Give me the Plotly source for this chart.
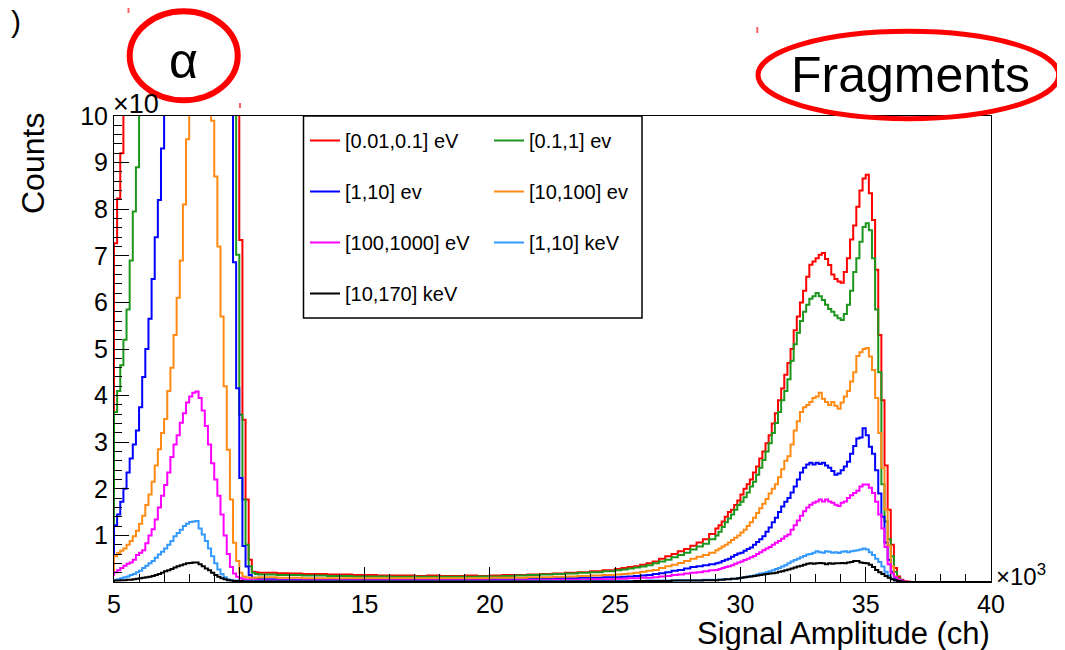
import numpy as np
import plotly.graph_objects as go

# ---------------- data (counts in units of x10^n, per histogram bin) ----------------
# bin start edges in channels; first alpha bin (4875) lies just left of the visible range
alpha_bins = np.arange(4875, 11000, 125)    # 49 bins
valley_bins = np.arange(11000, 25000, 500)  # 28 bins
rise_bins = np.arange(25000, 29000, 250)    # 16 bins
frag_bins = np.arange(29000, 37000, 125)    # 64 bins
last_edge = 40000

series_names = ["[0.01,0.1] eV", "[0.1,1] ev", "[1,10] ev", "[10,100] ev",
                "[100,1000] eV", "[1,10] keV", "[10,170] keV"]

red_alpha = [3.65, 7.27, 8.23, 9.2, 10.5, 11.5, 12.5, 14, 15.5, 17, 19, 21, 23, 25, 27, 29, 31, 33,
             34.5, 36, 37, 38, 38.5, 38.5, 38, 37, 36, 34.5, 33, 31, 29, 27, 25, 23, 21, 19, 17, 15,
             13.5, 12, 10.8, 7.34, 3.48, 1.77, 0.48, 0.22, 0.21, 0.2, 0.2]
green_alpha = [1.16, 3.65, 4.1, 4.65, 5.2, 5.85, 6.9, 7.95, 8.9, 10.8, 11.8, 13, 14.5, 16, 17.5, 19,
               20.5, 22, 23.5, 25, 26, 27, 27.5, 28, 28, 27.5, 27, 26, 25, 23.5, 22, 20.5, 19, 17.5,
               16, 14.5, 13, 12, 11, 10.4, 7.02, 3.59, 1.77, 0.8, 0.34, 0.2, 0.17, 0.16, 0.16]
blue_alpha = [0.41, 1.22, 1.45, 1.72, 2.0, 2.35, 2.65, 2.95, 3.25, 3.75, 4.4, 5.0, 5.65, 6.5, 7.4,
              8.2, 9.3, 10.5, 11.2, 12, 12.8, 13.5, 14, 14.5, 14.8, 15, 15, 14.8, 14.5, 14, 13.5,
              13, 12.5, 12, 11.5, 11, 10.6, 10.3, 10.1, 6.86, 4.16, 2.23, 0.77, 0.33, 0.15, 0.09,
              0.07, 0.06, 0.06]
orange_alpha = [0.2, 0.55, 0.62, 0.67, 0.72, 0.8, 0.88, 0.98, 1.1, 1.25, 1.42, 1.65, 1.88, 2.15,
                2.5, 2.85, 3.2, 3.5, 4.1, 4.6, 5.3, 6.1, 6.9, 8.1, 9.5, 10.8, 11.5, 12, 12.2, 12,
                11.5, 10.8, 9.9, 8.7, 7.2, 5.7, 4.2, 2.84, 1.77, 0.84, 0.45, 0.2, 0.12, 0.1, 0.09,
                0.09, 0.09, 0.1, 0.1]
magenta_alpha = [0.15, 0.21, 0.25, 0.3, 0.35, 0.39, 0.42, 0.48, 0.58, 0.63, 0.68, 0.83, 1.0, 1.13,
                 1.34, 1.6, 1.85, 2.08, 2.35, 2.68, 2.95, 3.15, 3.42, 3.62, 3.85, 3.98, 4.06, 4.09,
                 3.95, 3.68, 3.35, 2.95, 2.55, 2.2, 1.85, 1.45, 1.0, 0.6, 0.32, 0.18, 0.11, 0.08,
                 0.06, 0.05, 0.05, 0.04, 0.04, 0.04, 0.04]
lightblue_alpha = [0.04, 0.05, 0.06, 0.08, 0.1, 0.12, 0.15, 0.17, 0.21, 0.24, 0.3, 0.35, 0.4, 0.45,
                   0.52, 0.59, 0.65, 0.72, 0.8, 0.88, 0.98, 1.05, 1.12, 1.2, 1.25, 1.29, 1.3, 1.31,
                   1.15, 1.02, 0.88, 0.72, 0.55, 0.4, 0.27, 0.17, 0.1, 0.06, 0.04, 0.03, 0.03, 0.02,
                   0.02, 0.02, 0.02, 0.02, 0.02, 0.02, 0.02]
black_alpha = [0.02, 0.03, 0.03, 0.04, 0.04, 0.05, 0.05, 0.06, 0.07, 0.08, 0.09, 0.1, 0.11, 0.13,
               0.15, 0.17, 0.2, 0.23, 0.25, 0.28, 0.31, 0.34, 0.36, 0.38, 0.4, 0.41, 0.42, 0.42,
               0.38, 0.34, 0.29, 0.25, 0.2, 0.15, 0.11, 0.08, 0.06, 0.04, 0.03, 0.02, 0.02, 0.02,
               0.01, 0.01, 0.01, 0.01, 0.01, 0.01, 0.01]

red_valley = [0.2, 0.19, 0.18, 0.17, 0.17, 0.16, 0.16, 0.15, 0.15, 0.14, 0.14, 0.14, 0.13, 0.14,
              0.13, 0.13, 0.14, 0.13, 0.14, 0.15, 0.15, 0.16, 0.17, 0.18, 0.2, 0.21, 0.23, 0.25]
green_valley = [0.16, 0.15, 0.15, 0.14, 0.14, 0.13, 0.13, 0.12, 0.12, 0.12, 0.11, 0.11, 0.11, 0.11,
                0.11, 0.11, 0.11, 0.12, 0.12, 0.13, 0.14, 0.15, 0.16, 0.17, 0.18, 0.2, 0.21, 0.23]
orange_valley = [0.1, 0.09, 0.09, 0.08, 0.08, 0.08, 0.08, 0.08, 0.08, 0.08, 0.08, 0.08, 0.08, 0.08,
                 0.08, 0.08, 0.08, 0.08, 0.09, 0.09, 0.09, 0.1, 0.1, 0.11, 0.12, 0.13, 0.14, 0.15]
blue_valley = [0.06, 0.05, 0.05, 0.05, 0.05, 0.05, 0.05, 0.05, 0.05, 0.05, 0.05, 0.05, 0.05, 0.05,
               0.05, 0.05, 0.05, 0.05, 0.06, 0.06, 0.06, 0.07, 0.07, 0.08, 0.08, 0.09, 0.09, 0.1]
magenta_valley = [0.03, 0.03, 0.03, 0.03, 0.03, 0.03, 0.03, 0.03, 0.03, 0.03, 0.03, 0.03, 0.03, 0.03,
                  0.03, 0.03, 0.03, 0.03, 0.03, 0.03, 0.04, 0.04, 0.04, 0.05, 0.05, 0.05, 0.06, 0.06]
lightblue_valley = [0.015, 0.015, 0.015, 0.015, 0.015, 0.015, 0.015, 0.015, 0.015, 0.015, 0.015,
                    0.015, 0.015, 0.015, 0.015, 0.015, 0.015, 0.015, 0.015, 0.015, 0.015, 0.015,
                    0.02, 0.02, 0.02, 0.02, 0.02, 0.02]
black_valley = [0.01, 0.01, 0.01, 0.01, 0.01, 0.01, 0.01, 0.01, 0.01, 0.01, 0.01, 0.01, 0.01, 0.01,
                0.01, 0.01, 0.01, 0.01, 0.01, 0.01, 0.01, 0.01, 0.01, 0.01, 0.01, 0.01, 0.01, 0.01]

red_rise = [0.28, 0.3, 0.32, 0.34, 0.37, 0.4, 0.44, 0.5, 0.55, 0.6, 0.66, 0.71, 0.78, 0.85, 0.92, 1.03]
green_rise = [0.25, 0.27, 0.29, 0.31, 0.33, 0.36, 0.4, 0.44, 0.48, 0.53, 0.58, 0.63, 0.7, 0.76, 0.82, 0.92]
orange_rise = [0.16, 0.17, 0.18, 0.2, 0.22, 0.24, 0.26, 0.3, 0.34, 0.37, 0.41, 0.45, 0.5, 0.54, 0.58, 0.63]
blue_rise = [0.1, 0.11, 0.12, 0.13, 0.14, 0.15, 0.17, 0.19, 0.21, 0.24, 0.26, 0.29, 0.32, 0.34, 0.36, 0.38]
magenta_rise = [0.07, 0.07, 0.08, 0.08, 0.09, 0.09, 0.1, 0.12, 0.13, 0.15, 0.16, 0.18, 0.2, 0.21, 0.23, 0.25]
lightblue_rise = [0.02, 0.02, 0.02, 0.02, 0.02, 0.03, 0.03, 0.03, 0.03, 0.03, 0.04, 0.04, 0.04, 0.04, 0.05, 0.05]
black_rise = [0.01, 0.01, 0.01, 0.02, 0.02, 0.02, 0.02, 0.02, 0.02, 0.03, 0.03, 0.03, 0.03, 0.03, 0.04, 0.04]

red_frag = [1.15, 1.22, 1.3, 1.4, 1.5, 1.55, 1.65, 1.75,
            1.88, 2.0, 2.1, 2.2, 2.35, 2.48, 2.65, 2.8,
            2.98, 3.15, 3.4, 3.62, 3.9, 4.15, 4.45, 4.7,
            5.0, 5.4, 5.7, 6.0, 6.25, 6.55, 6.81, 6.88,
            6.95, 7.02, 7.06, 6.93, 6.8, 6.6, 6.5, 6.45,
            6.42, 6.65, 6.95, 7.35, 7.65, 8.05, 8.4, 8.66,
            8.74, 8.34, 7.77, 6.7, 5.3, 3.9, 2.5, 1.55,
            0.8, 0.3, 0.12, 0.05, 0.02, 0.01, 0.0, 0.0]
green_frag = [1.0, 1.08, 1.18, 1.28, 1.36, 1.45, 1.55, 1.65,
              1.72, 1.82, 1.92, 2.05, 2.15, 2.3, 2.45, 2.62,
              2.8, 2.98, 3.2, 3.41, 3.65, 3.9, 4.1, 4.35,
              4.75, 5.1, 5.35, 5.6, 5.8, 5.95, 6.08, 6.13,
              6.2, 6.13, 6.05, 5.95, 5.86, 5.8, 5.72, 5.66,
              5.62, 5.75, 5.95, 6.25, 6.65, 6.95, 7.3, 7.62,
              7.7, 7.55, 6.95, 5.85, 4.5, 2.1, 1.3, 0.92,
              0.55, 0.22, 0.08, 0.03, 0.01, 0.0, 0.0, 0.0]
orange_frag = [0.68, 0.72, 0.76, 0.8, 0.85, 0.9, 0.95, 1.0,
               1.06, 1.12, 1.2, 1.28, 1.38, 1.48, 1.58, 1.68,
               1.78, 1.9, 2.0, 2.1, 2.25, 2.42, 2.6, 2.7,
               2.95, 3.25, 3.45, 3.65, 3.75, 3.8, 3.86, 3.95,
               3.98, 4.06, 3.93, 3.86, 3.8, 3.86, 3.78, 3.72,
               3.85, 3.98, 4.1, 4.3, 4.5, 4.85, 4.93, 5.0,
               5.02, 4.84, 4.55, 3.95, 3.2, 2.45, 1.55, 0.78,
               0.34, 0.12, 0.05, 0.02, 0.01, 0.0, 0.0, 0.0]
blue_frag = [0.4, 0.42, 0.45, 0.48, 0.5, 0.54, 0.58, 0.61,
             0.63, 0.67, 0.71, 0.74, 0.8, 0.86, 0.92, 0.98,
             1.08, 1.17, 1.28, 1.38, 1.5, 1.62, 1.72, 1.8,
             1.92, 2.05, 2.2, 2.35, 2.45, 2.52, 2.56, 2.52,
             2.56, 2.53, 2.56, 2.5, 2.45, 2.38, 2.3, 2.33,
             2.4, 2.48, 2.58, 2.75, 2.92, 3.08, 3.1, 3.3,
             3.15, 2.9, 2.75, 2.4, 1.9, 1.4, 0.85, 0.48,
             0.22, 0.08, 0.03, 0.01, 0.0, 0.0, 0.0, 0.0]
magenta_frag = [0.26, 0.28, 0.3, 0.32, 0.34, 0.36, 0.39, 0.42,
                0.44, 0.47, 0.5, 0.53, 0.56, 0.6, 0.64, 0.68,
                0.72, 0.75, 0.8, 0.84, 0.88, 0.93, 0.98, 1.02,
                1.12, 1.22, 1.32, 1.42, 1.52, 1.6, 1.66, 1.7,
                1.73, 1.77, 1.73, 1.77, 1.73, 1.7, 1.66, 1.63,
                1.7, 1.73, 1.8, 1.86, 1.91, 1.96, 2.05, 2.09,
                2.09, 2.02, 1.91, 1.72, 1.45, 1.15, 0.75, 0.38,
                0.18, 0.1, 0.05, 0.03, 0.01, 0.0, 0.0, 0.0]
lightblue_frag = [0.05, 0.05, 0.06, 0.06, 0.06, 0.07, 0.07, 0.08,
                  0.09, 0.1, 0.11, 0.13, 0.14, 0.16, 0.18, 0.19,
                  0.21, 0.23, 0.25, 0.28, 0.3, 0.33, 0.36, 0.4,
                  0.44, 0.47, 0.5, 0.53, 0.56, 0.59, 0.6, 0.63,
                  0.66, 0.64, 0.63, 0.66, 0.65, 0.63, 0.64, 0.62,
                  0.65, 0.66, 0.64, 0.66, 0.67, 0.68, 0.7, 0.72,
                  0.7, 0.64, 0.58, 0.5, 0.43, 0.33, 0.22, 0.14,
                  0.07, 0.03, 0.01, 0.0, 0.0, 0.0, 0.0, 0.0]
black_frag = [0.04, 0.05, 0.05, 0.06, 0.06, 0.07, 0.07, 0.08,
              0.09, 0.1, 0.11, 0.12, 0.13, 0.14, 0.15, 0.16,
              0.17, 0.18, 0.19, 0.2, 0.22, 0.23, 0.25, 0.27,
              0.29, 0.31, 0.33, 0.35, 0.37, 0.39, 0.4, 0.39,
              0.4, 0.41, 0.4, 0.38, 0.4, 0.39, 0.4, 0.4,
              0.41, 0.4, 0.42, 0.43, 0.45, 0.45, 0.42, 0.41,
              0.4, 0.37, 0.32, 0.26, 0.21, 0.17, 0.13, 0.09,
              0.06, 0.04, 0.02, 0.01, 0.0, 0.0, 0.0, 0.0]

x_tick_vals = [5000, 10000, 15000, 20000, 25000, 30000, 35000, 40000]
x_tick_text = ["5", "10", "15", "20", "25", "30", "35", "40"]
y_tick_vals = [1, 2, 3, 4, 5, 6, 7, 8, 9, 10]
y_tick_text = ["1", "2", "3", "4", "5", "6", "7", "8", "9", "10"]

# ---------------- styling ----------------
colors = ["#ff0000", "#1d961d", "#0000ff", "#ff8a14", "#ff00ff", "#3399ff", "#000000"]
FONT = "Liberation Sans, Arial, Helvetica, sans-serif"

# the page body adds an 8 px offset; all target positions below are screen pixels
OFF = 8
SL, SR, ST, SB = 114, 991, 116, 582          # plot area on screen
L, R, T, B = SL - OFF, SR - OFF, ST - OFF, SB - OFF
W, H = R - L, B - T


def px(xs_screen):
    return (xs_screen - OFF - L) / W


def py(ys_screen):
    return (B - (ys_screen - OFF)) / H


def build(segments):
    xs, ys = [], []
    for edges, vals in segments:
        n = min(len(edges), len(vals))
        xs.extend(list(edges[:n]))
        ys.extend(list(vals[:n]))
    xs.append(last_edge)
    ys.append(0.0)
    return xs, ys


all_series = [
    (red_alpha, red_valley, red_rise, red_frag),
    (green_alpha, green_valley, green_rise, green_frag),
    (blue_alpha, blue_valley, blue_rise, blue_frag),
    (orange_alpha, orange_valley, orange_rise, orange_frag),
    (magenta_alpha, magenta_valley, magenta_rise, magenta_frag),
    (lightblue_alpha, lightblue_valley, lightblue_rise, lightblue_frag),
    (black_alpha, black_valley, black_rise, black_frag),
]
legend_of = ["legend", "legend2", "legend", "legend2", "legend", "legend2", "legend"]

fig = go.Figure()
for i, (a, v, r, f) in enumerate(all_series):
    xs, ys = build([(alpha_bins, a), (valley_bins, v), (rise_bins, r), (frag_bins, f)])
    fig.add_trace(go.Scatter(
        x=xs, y=ys, mode="lines", name=series_names[i],
        line=dict(color=colors[i], width=2, shape="hv"),
        legend=legend_of[i], legendgroup=series_names[i],
    ))

axis_common = dict(
    showline=True, linecolor="black", linewidth=1, mirror=True,
    ticks="inside", tickcolor="black", tickwidth=1, ticklen=15,
    showgrid=False, zeroline=False,
    tickfont=dict(family=FONT, size=25, color="black"),
)

fig.update_xaxes(
    range=[5000, 40000], tickmode="array", tickvals=x_tick_vals, ticktext=x_tick_text,
    minor=dict(ticks="inside", ticklen=8, tickcolor="black", tickwidth=1,
               tickmode="linear", tick0=5000, dtick=1000),
    **axis_common,
)
fig.update_yaxes(
    range=[0, 10], tickmode="array", tickvals=y_tick_vals, ticktext=y_tick_text,
    minor=dict(ticks="inside", ticklen=8, tickcolor="black", tickwidth=1,
               tickmode="linear", tick0=0, dtick=0.2),
    **axis_common,
)

legend_common = dict(
    xanchor="left", yanchor="top", bgcolor="rgba(0,0,0,0)", borderwidth=0,
    font=dict(family=FONT, size=20, color="black"),
    tracegroupgap=22, traceorder="grouped", itemwidth=30,
)

shapes = [
    # legend frame
    dict(type="rect", xref="paper", yref="paper", x0=px(303.5), x1=px(642), y0=py(318), y1=py(116),
         line=dict(color="black", width=1.5), fillcolor="white", layer="below"),
    # highlight ellipses
    dict(type="circle", xref="paper", yref="paper", x0=px(129.7), x1=px(237.7), y0=py(100.3), y1=py(11.3),
         line=dict(color="#ff0000", width=6)),
    dict(type="circle", xref="paper", yref="paper", x0=px(758), x1=px(1058.7), y0=py(118.7), y1=py(31.3),
         line=dict(color="#ff0000", width=5)),
]
for (mx, my0, my1) in [(128.5, 8, 13), (240, 103, 108), (757.3, 27, 33), (1064, 117, 122)]:
    shapes.append(dict(type="line", xref="paper", yref="paper", x0=px(mx), x1=px(mx),
                       y0=py(my1), y1=py(my0), line=dict(color="#ff6060", width=2)))

annotations = [
    dict(text="Counts", x=px(32.5), y=py(163.5), textangle=-90, font=dict(family=FONT, size=32, color="black")),
    dict(text="Signal Amplitude (ch)", x=px(992), y=py(633), xanchor="right",
         font=dict(family=FONT, size=31, color="black")),
    dict(text="×10", x=px(111), y=py(104), xanchor="left", font=dict(family=FONT, size=27, color="black")),
    dict(text="×10<sup>3</sup>", x=px(994), y=py(575), xanchor="left", font=dict(family=FONT, size=24, color="black")),
    dict(text="α", x=px(183.5), y=py(61), font=dict(family=FONT, size=50, color="black")),
    dict(text="Fragments", x=px(910.5), y=py(75), font=dict(family=FONT, size=50, color="black")),
    dict(text=")", x=px(9), y=py(21), xanchor="left", font=dict(family=FONT, size=30, color="black")),
]
for a in annotations:
    a.update(xref="paper", yref="paper", showarrow=False)
    a.setdefault("xanchor", "center")
    a.setdefault("yanchor", "middle")

fig.update_layout(
    width=1065, height=650,
    margin=dict(l=L, r=1065 - R, t=T, b=650 - B, pad=0),
    paper_bgcolor="white", plot_bgcolor="white",
    font=dict(family=FONT, color="black"),
    showlegend=True,
    legend=dict(x=px(305), y=py(121), **legend_common),
    legend2=dict(x=px(489), y=py(121), **legend_common),
    shapes=shapes,
    annotations=annotations,
)

fig.write_html("out.html")
